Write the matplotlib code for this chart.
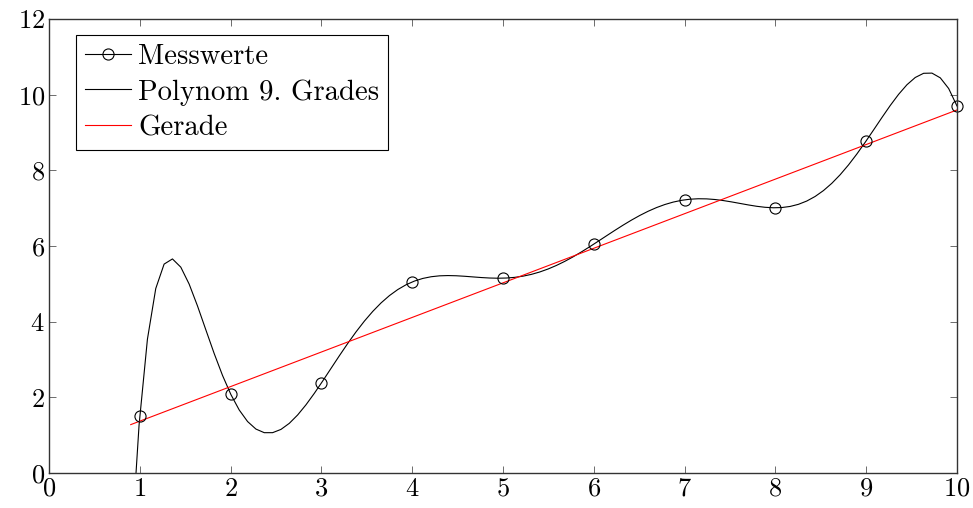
import numpy as np
import matplotlib
matplotlib.use("Agg")
import matplotlib.pyplot as plt
from matplotlib.lines import Line2D

# Data
x_mess = [1, 2, 3, 4, 5, 6, 7, 8, 9, 10]
y_mess = [1.51, 2.09, 2.38, 5.05, 5.15, 6.05, 7.22, 7.01, 8.78, 9.70]
x_range = [0.9, 10.0]
gerade_m = 0.914
gerade_b = 0.456
x_ticks = [0, 1, 2, 3, 4, 5, 6, 7, 8, 9, 10]
y_ticks = [0, 2, 4, 6, 8, 10, 12]
labels = ["Messwerte", "Polynom 9. Grades", "Gerade"]

plt.rcParams['font.family'] = ['cmr10', 'DejaVu Serif']
plt.rcParams['axes.formatter.use_mathtext'] = True
plt.rcParams['mathtext.fontset'] = 'cm'

fig = plt.figure(figsize=(9.73, 5.08), dpi=100)
ax = fig.add_axes([49/973, 35/508, (957-49)/973, (473-19)/508])

coef = np.polyfit(x_mess, y_mess, 9)
xs = np.linspace(x_range[0], x_range[1], 100)
ax.plot(xs, np.polyval(coef, xs), color='black', lw=0.8)
xl = np.array(x_range)
ax.plot(xl, gerade_m * xl + gerade_b, color='red', lw=0.8)
ax.plot(x_mess, y_mess, ls='none', marker='o', mfc='none', mec='black',
        ms=8, mew=0.8, clip_on=False)

ax.set_xlim(0, 10)
ax.set_ylim(0, 12)
ax.set_xticks(x_ticks)
ax.set_yticks(y_ticks)
ax.tick_params(direction='in', top=True, right=True, length=5, width=0.6,
               color='#555555', labelsize=19, pad=3)
for s in ax.spines.values():
    s.set_linewidth(1.0)
    s.set_color('#333333')

handles = [
    Line2D([], [], color='black', lw=0.8, marker='o', mfc='none', mec='black', ms=8, mew=0.8),
    Line2D([], [], color='black', lw=0.8),
    Line2D([], [], color='red', lw=0.8),
]
leg = ax.legend(handles, labels, loc='upper left', bbox_to_anchor=(0.03, 0.965),
                fontsize=20.7, fancybox=False, edgecolor='black', framealpha=1,
                handlelength=1.6, handletextpad=0.25, labelspacing=0.32,
                borderpad=0.3, borderaxespad=0)
leg.get_frame().set_linewidth(0.8)

fig.savefig('out.png', dpi=100)
